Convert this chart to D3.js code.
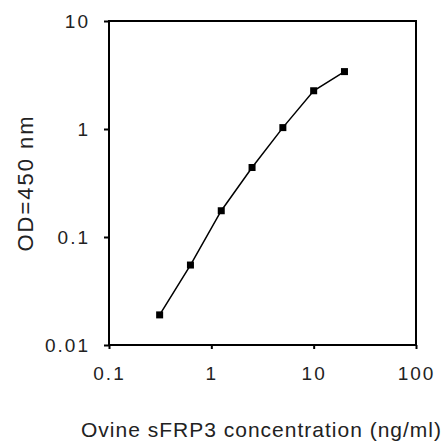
<!DOCTYPE html>
<html>
<head>
<meta charset="utf-8">
<script src="https://cdn.jsdelivr.net/npm/d3@7"></script>
<style>
  html, body { margin: 0; padding: 0; background: #fff; }
  svg { display: block; }
  text { font-family: Arial, "Liberation Sans", sans-serif; fill: #222; }
</style>
</head>
<body>
<svg id="chart" width="447" height="443"></svg>
<script>
// Data
const concentrations = [0.3125, 0.625, 1.25, 2.5, 5, 10, 20];
const odValues = [0.019, 0.055, 0.175, 0.44, 1.03, 2.26, 3.4];
const xTickValues = [0.1, 1, 10, 100];
const xTickLabels = ["0.1", "1", "10", "100"];
const yTickValues = [0.01, 0.1, 1, 10];
const yTickLabels = ["0.01", "0.1", "1", "10"];
const xTitle = "Ovine sFRP3 concentration (ng/ml)";
const yTitle = "OD=450 nm";

const svg = d3.select("#chart");
const pLeft = 109, pRight = 416, pTop = 21, pBottom = 345;

const x = d3.scaleLog().domain([0.1, 100]).range([pLeft, pRight]);
const y = d3.scaleLog().domain([0.01, 10]).range([pBottom, pTop]);

// Frame
svg.append("rect")
  .attr("x", pLeft).attr("y", pTop)
  .attr("width", pRight - pLeft).attr("height", pBottom - pTop)
  .attr("fill", "none").attr("stroke", "#000").attr("stroke-width", 2);

// Axes
const xAxis = d3.axisBottom(x)
  .tickValues(xTickValues)
  .tickFormat((d, i) => xTickLabels[i])
  .tickSize(4).tickPadding(18);
const gx = svg.append("g").attr("transform", `translate(0,${pBottom})`).call(xAxis);

const yAxis = d3.axisLeft(y)
  .tickValues(yTickValues)
  .tickFormat((d, i) => yTickLabels[i])
  .tickSize(5).tickPadding(14);
const gy = svg.append("g").attr("transform", `translate(${pLeft},0)`).call(yAxis);

[gx, gy].forEach(g => {
  g.select(".domain").remove();
  g.selectAll(".tick line").attr("stroke", "#000").attr("stroke-width", 2);
  g.selectAll(".tick text")
    .attr("font-size", 19)
    .attr("letter-spacing", 2)
    .attr("fill", "#222")
    .style("font-family", "Arial, 'Liberation Sans', sans-serif");
});

// Line
const line = d3.line()
  .x((d, i) => x(concentrations[i]))
  .y(d => y(d));
svg.append("path")
  .datum(odValues)
  .attr("d", line)
  .attr("fill", "none")
  .attr("stroke", "#000")
  .attr("stroke-width", 1.5);

// Markers
const ms = 7;
svg.append("g").selectAll("rect")
  .data(odValues)
  .join("rect")
  .attr("x", (d, i) => x(concentrations[i]) - ms / 2)
  .attr("y", d => y(d) - ms / 2)
  .attr("width", ms).attr("height", ms)
  .attr("fill", "#000");

// Titles
svg.append("text")
  .attr("x", (pLeft + pRight) / 2 - 1)
  .attr("y", 437)
  .attr("text-anchor", "middle")
  .attr("font-size", 21)
  .attr("letter-spacing", 1)
  .text(xTitle);

svg.append("text")
  .attr("transform", `translate(33,${(pTop + pBottom) / 2}) rotate(-90)`)
  .attr("text-anchor", "middle")
  .attr("font-size", 22)
  .attr("letter-spacing", 2)
  .text(yTitle);
</script>
</body>
</html>
